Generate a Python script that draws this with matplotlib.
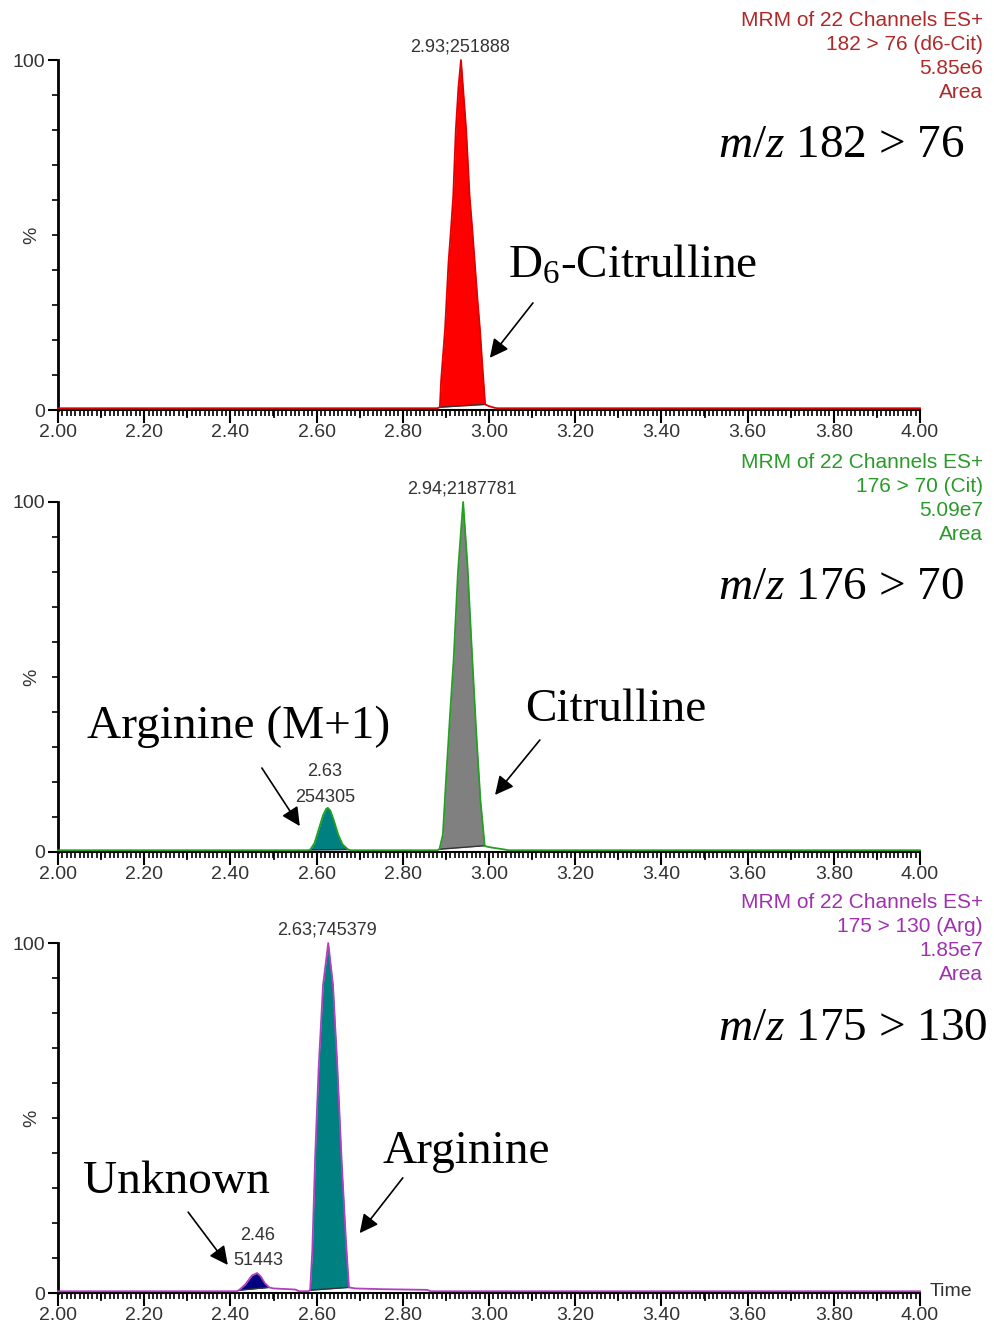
import numpy as np
import matplotlib
matplotlib.use("Agg")
from matplotlib import pyplot as plt
from matplotlib.ticker import MultipleLocator, FixedLocator, FormatStrFormatter

plt.rcParams["font.family"] = ["Liberation Sans", "DejaVu Sans"]
plt.rcParams["mathtext.fontset"] = "custom"
plt.rcParams["mathtext.rm"] = "Liberation Serif"
plt.rcParams["mathtext.it"] = "Liberation Serif:italic"

# ---- data (time in min, intensity in %) ----
# panel 1: 182 > 76 (d6-Cit)
t_cit_d6 = [2.00, 2.50, 2.880, 2.886, 2.889, 2.898, 2.906, 2.912, 2.917, 2.923, 2.929,
            2.935, 2.941, 2.947, 2.955, 2.961, 2.967, 2.973, 2.979, 2.985, 2.991,
            3.000, 3.014, 3.020, 3.50, 4.00]
i_cit_d6 = [0.5, 0.5, 0.5, 0.8, 8.6, 23, 42, 52, 61, 80, 92,
            100, 90, 80, 61, 52, 42, 32, 23, 12, 1.6,
            1.1, 0.6, 0.5, 0.5, 0.5]
peaks_cit_d6 = [(2.886, 2.991)]

# panel 2: 176 > 70 (Cit)
t_cit = [2.00, 2.40, 2.580, 2.585, 2.595, 2.605, 2.615, 2.622, 2.626, 2.632, 2.640, 2.650, 2.660, 2.673,
         2.680, 2.880, 2.885, 2.893, 2.900, 2.910, 2.918, 2.928, 2.940, 2.950, 2.960, 2.970,
         2.980, 2.990, 2.996, 3.010, 3.037, 3.045, 3.50, 4.00]
i_cit = [0.5, 0.5, 0.5, 0.6, 2.5, 6.5, 10.5, 12.3, 12.6, 11.8, 9.0, 5.0, 2.2, 0.7,
         0.5, 0.5, 0.8, 5.0, 20, 40, 55, 80, 100, 82, 58, 35,
         15, 1.8, 1.5, 1.2, 0.7, 0.5, 0.5, 0.5]
peaks_cit = [(2.585, 2.673), (2.885, 2.990)]

# panel 3: 175 > 130 (Arg)
t_arg = [2.00, 2.30, 2.415, 2.420, 2.435, 2.450, 2.462, 2.470, 2.480, 2.490, 2.500, 2.550, 2.560,
         2.580, 2.585, 2.590, 2.597, 2.605, 2.615, 2.627, 2.638, 2.648, 2.658, 2.668, 2.675,
         2.690, 2.750, 2.856, 2.865, 3.20, 4.00]
i_arg = [0.5, 0.5, 0.5, 0.8, 2.5, 5.0, 5.7, 4.8, 2.8, 1.6, 1.3, 1.0, 0.5,
         0.5, 0.8, 12, 40, 65, 88, 100, 88, 65, 38, 15, 1.6,
         1.3, 1.1, 0.9, 0.5, 0.5, 0.5]
peaks_arg = [(2.420, 2.490), (2.585, 2.675)]

panels = [
    dict(t=t_cit_d6, i=i_cit_d6, peaks=peaks_cit_d6, line="#e00000", fills=["#ff0000"],
         hcol="#b02828", header=["MRM of 22 Channels ES+", "182 > 76 (d6-Cit)", "5.85e6", "Area"],
         bottom=410, mz="$m/z$ 182 > 76"),
    dict(t=t_cit, i=i_cit, peaks=peaks_cit, line="#22a022", fills=["#008080", "#808080"],
         hcol="#2a9a2a", header=["MRM of 22 Channels ES+", "176 > 70 (Cit)", "5.09e7", "Area"],
         bottom=852, mz="$m/z$ 176 > 70"),
    dict(t=t_arg, i=i_arg, peaks=peaks_arg, line="#b040c0", fills=["#000080", "#008080"],
         hcol="#a030b0", header=["MRM of 22 Channels ES+", "175 > 130 (Arg)", "1.85e7", "Area"],
         bottom=1293, mz="$m/z$ 175 > 130"),
]

W, H = 995, 1328
fig = plt.figure(figsize=(W / 100, H / 100), dpi=100)
left_px, right_px = 58, 920
axes = []
for p in panels:
    b = p["bottom"]
    ax = fig.add_axes([left_px / W, 1 - b / H, (right_px - left_px) / W, 350 / H])
    axes.append(ax)
    t = np.array(p["t"])
    y = np.array(p["i"])
    for (s, e), fc in zip(p["peaks"], p["fills"]):
        m = (t >= s) & (t <= e)
        ts = t[m]
        ys, ye = np.interp(s, t, y), np.interp(e, t, y)
        base = ys + (ye - ys) * (ts - s) / (e - s)
        ax.fill_between(ts, y[m], base, color=fc, lw=0, zorder=2)
        ax.plot([s, e], [ys, ye], color="#333333", lw=1.0, zorder=3)
    ax.plot(t, y, color=p["line"], lw=1.3, zorder=4, clip_on=False)

    ax.set_xlim(2.0, 4.0)
    ax.set_ylim(0, 100)
    for side in ["top", "right"]:
        ax.spines[side].set_visible(False)
    ax.spines["left"].set_linewidth(2)
    ax.spines["bottom"].set_linewidth(1.5)
    ax.xaxis.set_major_locator(MultipleLocator(0.2))
    ax.xaxis.set_minor_locator(MultipleLocator(0.01))
    ax.xaxis.set_major_formatter(FormatStrFormatter("%.2f"))
    ax.yaxis.set_major_locator(FixedLocator([0, 100]))
    ax.yaxis.set_minor_locator(MultipleLocator(10))
    ax.tick_params(axis="both", which="major", length=9, width=1.5, labelsize=14,
                   labelcolor="#333333", direction="out")
    ax.tick_params(axis="both", which="minor", length=4, width=1.2, direction="out")
    ax.tick_params(axis="y", which="major", length=7, pad=2)
    ax.tick_params(axis="x", which="major", pad=1)
    # medium ticks at every 0.1 min
    for xm in np.arange(2.1, 4.0, 0.2):
        ax.plot([xm, xm], [0, -2.0], color="black", lw=1.3, clip_on=False)
    ax.set_ylabel("%", fontsize=14, color="#333333")
    ax.yaxis.set_label_coords(-0.021, 0.5)

    # header text, top right
    for k, line in enumerate(p["header"]):
        fig.text(983 / W, 1 - (b - 390 + 24 * k) / H, line, ha="right", va="center",
                 fontsize=15, color=p["hcol"])
    ax.text(3.531, 75.5, p["mz"], fontsize=34, family="Liberation Serif",
            ha="left", va="center", clip_on=False)

serif = "Liberation Serif"
ax1, ax2, ax3 = axes
arrow = dict(arrowstyle="-|>", color="black", lw=1.2, mutation_scale=28,
             shrinkA=0, shrinkB=0)

# panel 1
ax1.text(2.933, 103.7, "2.93;251888", fontsize=13, ha="center", va="center", color="#333333")
ax1.text(3.044, 41.0, "D$_6$-Citrulline", fontsize=34, family=serif, ha="left", va="center")
ax1.annotate("", xy=(3.002, 14.9), xytext=(3.102, 30.6), arrowprops=arrow)

# panel 2
ax2.text(2.937, 103.7, "2.94;2187781", fontsize=13, ha="center", va="center", color="#333333")
ax2.text(2.619, 22.9, "2.63", fontsize=13, ha="center", va="center", color="#333333")
ax2.text(2.619, 15.7, "254305", fontsize=13, ha="center", va="center", color="#333333")
ax2.text(3.084, 40.6, "Citrulline", fontsize=34, family=serif, ha="left", va="center")
ax2.text(2.067, 35.7, "Arginine (M+1)", fontsize=34, family=serif, ha="left", va="center")
ax2.annotate("", xy=(3.014, 16.3), xytext=(3.118, 32.0), arrowprops=arrow)
ax2.annotate("", xy=(2.561, 7.4), xytext=(2.473, 24.0), arrowprops=arrow)

# panel 3
ax3.text(2.624, 103.7, "2.63;745379", fontsize=13, ha="center", va="center", color="#333333")
ax3.text(2.464, 16.3, "2.46", fontsize=13, ha="center", va="center", color="#333333")
ax3.text(2.464, 9.4, "51443", fontsize=13, ha="center", va="center", color="#333333")
ax3.text(2.754, 40.3, "Arginine", fontsize=34, family=serif, ha="left", va="center")
ax3.text(2.058, 31.7, "Unknown", fontsize=34, family=serif, ha="left", va="center")
ax3.annotate("", xy=(2.700, 17.1), xytext=(2.800, 32.9), arrowprops=arrow)
ax3.annotate("", xy=(2.394, 8.0), xytext=(2.302, 23.1), arrowprops=arrow)
ax3.text(4.023, 0.3, "Time", fontsize=14, ha="left", va="center", color="#333333")

fig.savefig("out.png", dpi=100, facecolor="white")
